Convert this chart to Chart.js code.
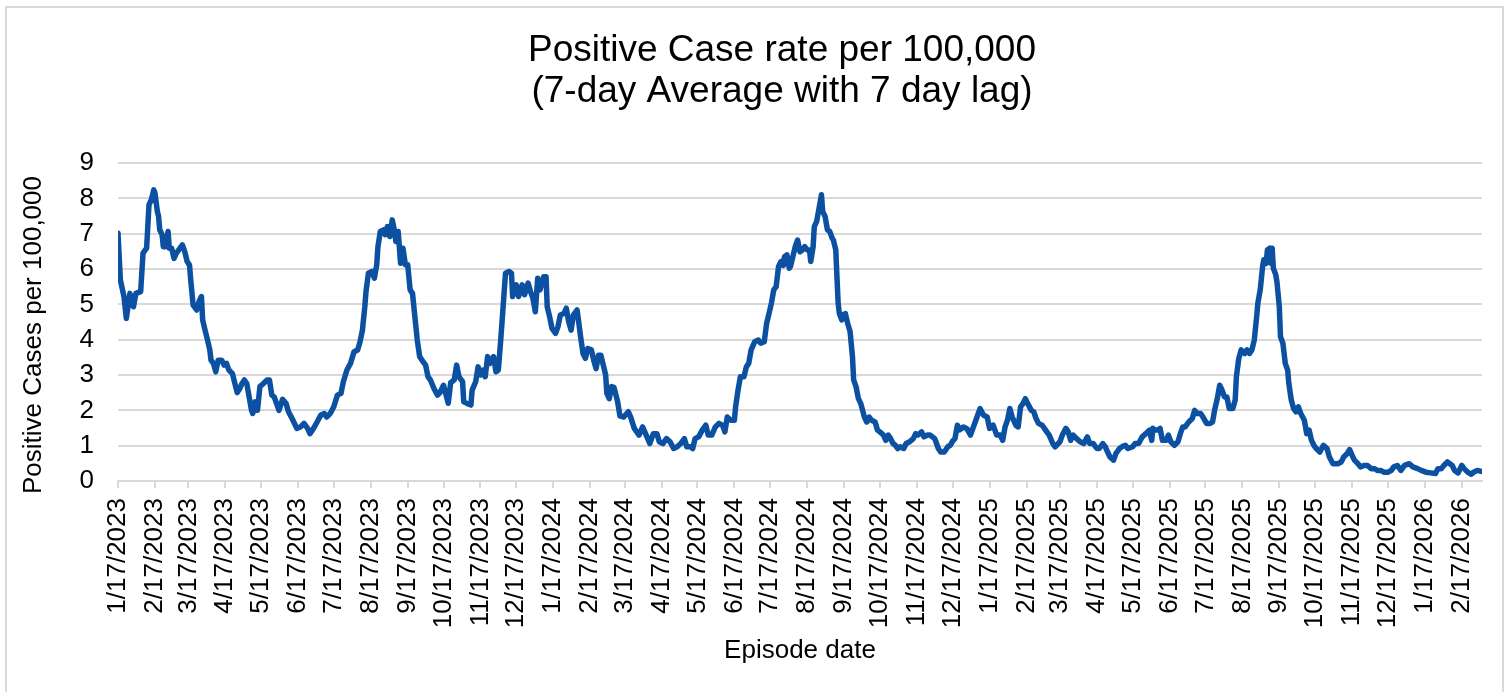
<!DOCTYPE html>
<html>
<head>
<meta charset="utf-8">
<script src="https://cdn.jsdelivr.net/npm/chart.js@4.4.1/dist/chart.umd.min.js"></script>
<style>
html,body{margin:0;padding:0;background:#fff;}
#wrap{position:relative;width:1506px;height:692px;overflow:hidden;}
#frame{position:absolute;left:5px;top:6px;width:1499px;height:720px;border:2px solid #d9d9d9;box-sizing:border-box;pointer-events:none;}
canvas{position:absolute;left:0;top:0;}
</style>
</head>
<body>
<div id="wrap"><canvas id="c" width="1506" height="692"></canvas><div id="frame"></div></div>
<script>
// ---- data ----
const chartTitleLines = ['Positive Case rate per 100,000', '(7-day Average with 7 day lag)'];
const yAxisTitle = 'Positive Cases per 100,000';
const xAxisTitle = 'Episode date';
const startDate = '1/17/2023';
const endDay = 1144;
const tickLabels = [
  '1/17/2023','2/17/2023','3/17/2023','4/17/2023','5/17/2023','6/17/2023','7/17/2023','8/17/2023','9/17/2023','10/17/2023','11/17/2023','12/17/2023',
  '1/17/2024','2/17/2024','3/17/2024','4/17/2024','5/17/2024','6/17/2024','7/17/2024','8/17/2024','9/17/2024','10/17/2024','11/17/2024','12/17/2024',
  '1/17/2025','2/17/2025','3/17/2025','4/17/2025','5/17/2025','6/17/2025','7/17/2025','8/17/2025','9/17/2025','10/17/2025','11/17/2025','12/17/2025',
  '1/17/2026','2/17/2026'
];
// days since 1/17/2023
const dayIndex = [
  0,2,5,7,10,13,15,19,21,24,
  26,28,30,31,33,34,35,37,38,40,
  42,43,45,47,49,52,54,56,58,60,
  61,63,66,68,70,71,73,75,77,78,
  80,82,84,87,89,91,93,96,98,100,
  102,104,106,108,110,112,113,115,117,119,
  122,125,127,129,131,135,138,141,143,146,
  150,153,156,159,161,164,167,170,173,175,
  178,181,184,187,189,192,195,198,201,203,
  205,207,208,210,213,215,217,218,220,223,
  224,226,228,230,232,233,235,237,239,241,
  243,245,247,249,251,253,256,258,260,262,
  265,268,270,273,275,277,279,282,284,286,
  289,290,293,296,297,300,302,304,306,308,
  310,312,315,317,319,321,323,325,328,330,
  331,334,336,339,341,344,346,348,350,352,
  354,357,359,360,362,364,367,369,371,374,
  376,378,380,382,385,386,388,390,392,394,
  397,399,401,403,405,407,409,410,412,414,
  416,419,421,424,428,430,433,437,440,443,
  446,449,452,454,457,460,463,466,469,472,
  475,477,480,482,484,487,490,493,495,498,
  501,504,507,509,511,514,517,518,520,522,
  525,527,529,531,534,537,539,542,544,546,
  548,550,552,554,556,558,559,561,563,564,
  566,568,570,572,574,576,578,580,581,583,
  584,586,588,590,591,593,595,597,599,600,
  602,603,604,605,607,608,610,612,614,616,
  617,619,621,623,626,628,630,632,635,637,
  639,642,644,646,648,650,652,654,656,659,
  661,664,667,669,671,674,676,679,681,685,
  686,688,690,693,696,698,700,702,704,706,
  709,712,715,717,720,723,726,729,731,734,
  737,740,742,744,746,748,750,753,755,757,
  759,761,763,766,768,770,772,775,777,779,
  781,784,786,790,792,795,797,799,801,804,
  807,810,813,815,818,821,823,826,828,830,
  832,835,837,840,843,845,847,851,853,856,
  859,862,865,867,868,870,872,874,876,879,
  881,883,886,889,891,893,895,898,901,903,
  905,908,910,913,916,918,920,922,924,926,
  928,930,932,935,937,938,940,942,945,947,
  949,951,953,955,956,958,960,961,963,964,
  966,967,968,969,971,972,974,975,977,979,
  981,982,984,986,988,990,992,995,997,999,
  1001,1003,1005,1008,1011,1014,1016,1019,1023,1026,
  1028,1031,1033,1035,1037,1040,1042,1045,1048,1051,
  1054,1056,1059,1062,1065,1068,1070,1073,1076,1079,
  1083,1086,1090,1093,1097,1101,1105,1107,1110,1112,
  1115,1119,1121,1124,1127,1129,1132,1135,1137,1140,
  1144
];
const rateValues = [
  7.01,5.69,5.22,4.60,5.31,4.93,5.31,5.36,6.45,6.59,
  7.82,7.96,8.24,8.15,7.63,7.50,7.11,6.97,6.63,6.63,
  7.06,6.59,6.59,6.30,6.45,6.59,6.68,6.49,6.21,6.11,
  5.69,4.98,4.84,5.08,5.22,4.56,4.27,4.00,3.71,3.42,
  3.33,3.09,3.42,3.42,3.28,3.33,3.14,3.04,2.76,2.50,
  2.61,2.76,2.86,2.76,2.38,2.00,1.91,2.24,2.00,2.67,
  2.76,2.86,2.86,2.43,2.38,2.00,2.31,2.19,1.96,1.77,
  1.49,1.53,1.63,1.49,1.34,1.49,1.67,1.86,1.91,1.81,
  1.91,2.10,2.43,2.48,2.81,3.14,3.33,3.66,3.71,3.94,
  4.27,4.93,5.36,5.88,5.93,5.74,6.12,6.63,7.06,7.11,
  6.97,7.20,6.92,7.39,7.06,6.78,7.06,6.16,6.59,6.12,
  6.12,5.41,5.31,4.65,3.99,3.52,3.37,3.28,2.95,2.86,
  2.62,2.43,2.50,2.71,2.45,2.20,2.78,2.86,3.28,2.95,
  2.81,2.24,2.19,2.15,2.57,2.81,3.23,3.00,3.14,2.95,
  3.52,3.33,3.52,3.09,3.14,3.99,4.93,5.88,5.93,5.88,
  5.22,5.55,5.22,5.55,5.27,5.60,5.36,5.17,4.79,5.74,
  5.41,5.78,5.78,4.93,4.65,4.32,4.18,4.37,4.70,4.74,
  4.89,4.51,4.27,4.70,4.84,4.60,4.08,3.61,3.47,3.75,
  3.71,3.42,3.18,3.56,3.56,3.28,3.00,2.48,2.33,2.67,
  2.65,2.25,1.84,1.81,1.96,1.81,1.49,1.30,1.53,1.30,
  1.06,1.34,1.34,1.11,1.06,1.20,1.11,0.92,0.97,1.06,
  1.20,0.97,0.97,0.92,1.20,1.25,1.44,1.58,1.30,1.30,
  1.53,1.63,1.58,1.39,1.81,1.72,1.72,2.10,2.57,2.95,
  2.95,3.23,3.33,3.71,3.94,3.99,3.90,3.94,4.46,4.74,
  5.03,5.41,5.50,6.07,6.21,6.10,6.35,6.40,6.02,6.07,
  6.35,6.63,6.82,6.49,6.54,6.63,6.54,6.54,6.21,6.63,
  7.20,7.35,7.72,8.10,7.63,7.49,7.11,7.06,6.87,6.82,
  6.54,5.78,5.03,4.74,4.56,4.70,4.74,4.46,4.23,3.52,
  2.86,2.67,2.33,2.19,1.81,1.67,1.81,1.72,1.67,1.44,
  1.39,1.30,1.15,1.30,1.20,1.06,1.01,0.92,0.97,0.92,
  1.06,1.11,1.20,1.34,1.30,1.39,1.25,1.30,1.30,1.20,
  1.11,0.92,0.82,0.82,0.97,1.01,1.13,1.20,1.58,1.45,
  1.53,1.48,1.30,1.49,1.77,2.05,1.86,1.81,1.49,1.58,
  1.30,1.30,1.15,1.53,1.72,2.05,1.81,1.58,1.53,2.10,
  2.19,2.33,2.19,2.00,1.96,1.77,1.63,1.58,1.49,1.39,
  1.30,1.06,0.97,1.11,1.30,1.49,1.39,1.15,1.30,1.20,
  1.11,1.06,1.25,1.06,1.06,0.92,0.92,1.06,0.97,0.82,
  0.68,0.59,0.78,0.92,0.99,1.01,0.92,0.97,1.06,1.06,
  1.25,1.34,1.44,1.15,1.49,1.44,1.44,1.49,1.15,1.15,
  1.30,1.11,1.01,1.11,1.34,1.53,1.53,1.67,1.77,2.00,
  1.91,1.91,1.81,1.63,1.63,1.67,2.05,2.33,2.71,2.57,
  2.38,2.38,2.05,2.05,2.29,2.95,3.47,3.71,3.61,3.71,
  3.61,3.71,3.99,4.65,5.03,5.41,6.07,6.26,6.16,6.54,
  6.59,6.16,6.59,6.02,5.84,5.64,4.93,4.08,3.90,3.33,
  3.14,2.76,2.30,2.05,1.96,2.10,1.91,1.72,1.34,1.44,
  1.15,1.01,0.92,0.82,1.01,0.92,0.68,0.49,0.49,0.54,
  0.68,0.78,0.89,0.73,0.59,0.49,0.40,0.44,0.44,0.35,
  0.35,0.30,0.30,0.25,0.25,0.30,0.40,0.44,0.30,0.44,
  0.49,0.40,0.35,0.30,0.25,0.23,0.21,0.35,0.35,0.44,
  0.54,0.44,0.30,0.23,0.44,0.35,0.25,0.19,0.25,0.30,
  0.27
];

// ---- helpers ----
function parseMDY(s) { const [m, d, y] = s.split('/').map(Number); return Date.UTC(y, m - 1, d); }
const DAY = 86400000;
const t0 = parseMDY(startDate);
const tickDays = tickLabels.map(l => Math.round((parseMDY(l) - t0) / DAY));
const n = Math.min(dayIndex.length, rateValues.length);
const points = [];
for (let i = 0; i < n; i++) points.push({ x: dayIndex[i], y: rateValues[i] });

const FONT = '"Liberation Sans", Arial, Helvetica, sans-serif';
Chart.defaults.font.family = FONT;
Chart.defaults.color = '#000';

// chart title and y-axis title drawn as canvas text at the reference's positions
const textPlugin = {
  id: 'titleTexts',
  afterDraw(chart) {
    const ctx = chart.ctx;
    ctx.save();
    ctx.fillStyle = '#000';
    ctx.textAlign = 'center';
    ctx.textBaseline = 'alphabetic';
    ctx.font = '37px ' + FONT;
    ctx.fillText(chartTitleLines[0], 782, 61);
    ctx.fillText(chartTitleLines[1], 782, 102);
    ctx.translate(34, 335);
    ctx.rotate(-Math.PI / 2);
    ctx.font = '26px ' + FONT;
    ctx.textBaseline = 'middle';
    ctx.fillText(yAxisTitle, 0, 0);
    ctx.restore();
  }
};

new Chart(document.getElementById('c'), {
  type: 'line',
  data: {
    datasets: [{
      data: points,
      borderColor: '#0c51a1',
      borderWidth: 5.5,
      pointRadius: 0,
      tension: 0,
      borderJoinStyle: 'round',
      borderCapStyle: 'round',
      fill: false
    }]
  },
  options: {
    responsive: false,
    animation: false,
    devicePixelRatio: 1,
    layout: { padding: { top: 163, right: 24, left: 0, bottom: 0 } },
    plugins: { legend: { display: false }, tooltip: { enabled: false }, title: { display: false } },
    scales: {
      x: {
        type: 'linear',
        min: 0,
        max: endDay,
        afterBuildTicks: s => { s.ticks = tickDays.map(v => ({ value: v })); },
        ticks: {
          autoSkip: false,
          minRotation: 90,
          maxRotation: 90,
          padding: 10,
          font: { size: 26 },
          color: '#000',
          callback: (v, i) => tickLabels[i]
        },
        grid: { display: true, drawOnChartArea: false, drawTicks: true, tickLength: 7, color: '#d9d9d9', lineWidth: 2 },
        border: { display: true, color: '#d9d9d9', width: 2 },
        title: { display: true, text: xAxisTitle, font: { size: 26 }, color: '#000', padding: { top: 0, bottom: 26 } },
        afterFit: s => { s.height = 211; s.paddingLeft = 0; s.paddingRight = 0; }
      },
      y: {
        min: 0,
        max: 9,
        ticks: { stepSize: 1, font: { size: 26 }, color: '#000', padding: 24 },
        grid: { color: '#d9d9d9', lineWidth: 2, drawTicks: false },
        border: { display: false },
        title: { display: false },
        afterFit: s => { s.width = 118; }
      }
    }
  },
  plugins: [textPlugin]
});
</script>
</body>
</html>
